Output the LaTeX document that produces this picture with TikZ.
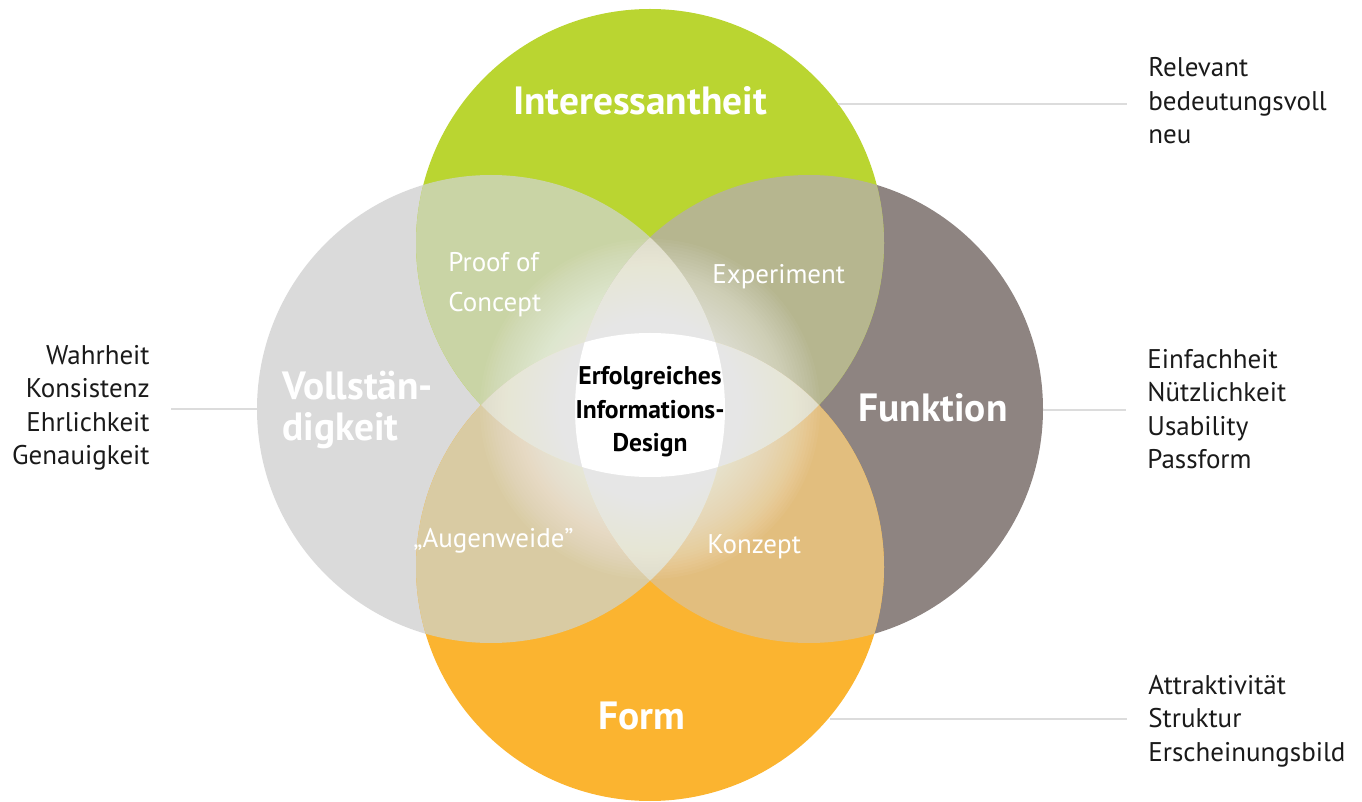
\documentclass[tikz,border=0pt]{standalone}
\usepackage{fontspec}
\setmainfont{PT Sans}
\usetikzlibrary{calc}
\usetikzlibrary{positioning}

\definecolor{interGreen}{HTML}{BAD531}
\definecolor{vollGray}{HTML}{DADADA}
\definecolor{funkBrown}{HTML}{8E8481}
\definecolor{formOrange}{HTML}{FBB430}
\definecolor{ovTL}{HTML}{C9D4A5}
\definecolor{ovTR}{HTML}{B6B68F}
\definecolor{ovBL}{HTML}{D9CBA3}
\definecolor{ovBR}{HTML}{E2BE7E}
\definecolor{ovMid}{HTML}{DEDCC8}
\definecolor{lineGray}{HTML}{DCDCDC}
\definecolor{sideBlack}{HTML}{1A1A1A}

\tikzset{
  mainlabel/.style={text=white, font=\bfseries\fontsize{19.7}{20.5}\selectfont, inner sep=0pt},
  sublabel/.style={text=white, font=\fontsize{13.5}{20}\selectfont, inner sep=0pt, align=left},
  sidetext/.style={text=sideBlack, font=\fontsize{13.5}{16.75}\selectfont, inner sep=0pt},
  sideline/.style={draw=lineGray, line width=1pt, shorten >=10.5pt},
}

\begin{document}
\begin{tikzpicture}[x=0.5pt,y=-0.5pt]
    \useasboundingbox (0,0) rectangle (1362,802);
    \def\rad{234}
    \coordinate (cT) at (650,243);
    \coordinate (cB) at (650,567);
    \coordinate (cL) at (491,409);
    \coordinate (cR) at (809,409);
    \coordinate (cM) at (650,409);

    % the four circles
    \fill[vollGray] (cL) circle[radius=\rad];
    \fill[funkBrown] (cR) circle[radius=\rad];
    \fill[interGreen] (cT) circle[radius=\rad];
    \fill[formOrange] (cB) circle[radius=\rad];

    % overlaps
    \begin{scope}
      \clip (cT) circle[radius=\rad];
      \fill[ovTL] (cL) circle[radius=\rad];
      \fill[ovTR] (cR) circle[radius=\rad];
    \end{scope}
    \begin{scope}
      \clip (cB) circle[radius=\rad];
      \fill[ovBL] (cL) circle[radius=\rad];
      \fill[ovBR] (cR) circle[radius=\rad];
    \end{scope}
    \begin{scope}
      \clip (cL) circle[radius=\rad];
      \fill[ovMid] (cR) circle[radius=\rad];
    \end{scope}
    \begin{scope}
      \clip (cT) circle[radius=\rad];
      \fill[ovMid] (cB) circle[radius=\rad];
    \end{scope}

    % glow and white core
    \foreach \r in {170,167,...,2}
      \fill[white, fill opacity=0.04] (cM) circle[radius=\r];
    \begin{scope}
      \clip (cT) circle[radius=\rad];
      \clip (cB) circle[radius=\rad];
      \clip (cL) circle[radius=\rad];
      \fill[white] (cR) circle[radius=\rad];
    \end{scope}

    % circle labels
    \node[mainlabel, anchor=base] (interLbl) at (640,115) {Interessantheit};
    \node[mainlabel, anchor=west, align=left] (vollLbl) at (282,410) {Vollstän-\\digkeit};
    \node[mainlabel, anchor=base] (funkLbl) at (933,422) {Funktion};
    \node[mainlabel, anchor=base] (formLbl) at (642,729) {Form};

    % overlap labels
    \node[sublabel, anchor=west] (proofLbl) at (448,285) {Proof of\\Concept};
    \node[sublabel, anchor=base west] (experLbl) at (712,284) {Experiment};
    \node[sublabel, anchor=base west] (augenLbl) at (413,547) {„Augenweide”};
    \node[sublabel, anchor=base west] (konzLbl) at (707,553) {Konzept};

    \node[text=black, font=\bfseries\fontsize{12.8}{16.75}\selectfont, inner sep=0pt, align=center] (coreLbl) at (650,412) {Erfolgreiches\\Informations-\\Design};

    % side texts
    \node[sidetext, anchor=west, align=left] (interTxt) at (1148,101) {Relevant\\bedeutungsvoll\\neu};
    \node[sidetext, anchor=west, align=left] (funkTxt) at (1147,409) {Einfachheit\\Nützlichkeit\\Usability\\Passform};
    \node[sidetext, anchor=west, align=left] (formTxt) at (1148,721) {Attraktivität\\Struktur\\Erscheinungsbild};
    \node[sidetext, anchor=east, align=right] (vollTxt) at (150,408) {Wahrheit\\Konsistenz\\Ehrlichkeit\\Genauigkeit};

    % connectors
    \coordinate (eT) at (838,104);
    \coordinate (eR) at (1043,410);
    \coordinate (eB) at (830,719);
    \coordinate (eL) at (257,409);
    \draw[sideline] (eT) -- (eT -| interTxt.west);
    \draw[sideline] (eR) -- (eR -| funkTxt.west);
    \draw[sideline] (eB) -- (eB -| formTxt.west);
    \draw[sideline] (eL) -- (eL -| vollTxt.east);
  \end{tikzpicture}
\end{document}
